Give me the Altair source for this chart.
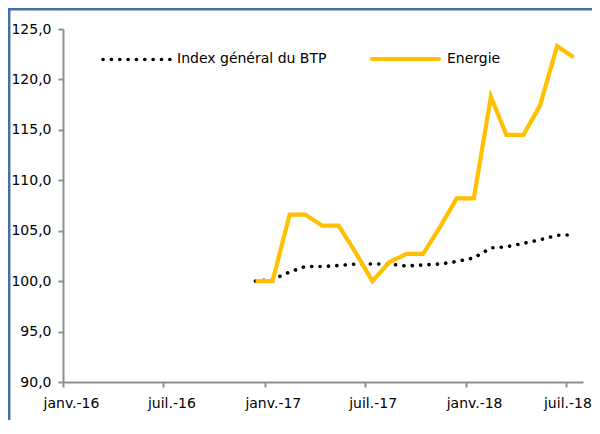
import altair as alt
import pandas as pd

# --- data ---
dates = ["2016-12-15", "2017-01-15", "2017-02-15", "2017-03-15", "2017-04-15",
         "2017-05-15", "2017-06-15", "2017-07-15", "2017-08-15", "2017-09-15",
         "2017-10-15", "2017-11-15", "2017-12-15", "2018-01-15", "2018-02-15",
         "2018-03-15", "2018-04-15", "2018-05-15", "2018-06-15", "2018-07-15"]
index_btp = [100.0, 100.15, 100.9, 101.45, 101.45, 101.55, 101.7, 101.7, 101.7, 101.5,
             101.6, 101.7, 101.95, 102.3, 103.3, 103.4, 103.75, 104.1, 104.55, 104.6]
energie = [100.0, 100.0, 106.6, 106.6, 105.5, 105.5, 102.8, 100.0, 101.9, 102.7,
           102.7, 105.4, 108.2, 108.2, 118.3, 114.5, 114.5, 117.4, 123.3, 122.2]
series_names = ["Index général du BTP", "Energie"]

y_ticks = [90, 95, 100, 105, 110, 115, 120, 125]
x_ticks = ["2016-01-01", "2016-07-01", "2017-01-01", "2017-07-01", "2018-01-01", "2018-07-01"]

W, H = 520, 353
PAD = {"left": 55, "top": 21, "right": 9, "bottom": 38}

df_idx = pd.DataFrame({"date": dates, "value": index_btp})
df_en = pd.DataFrame({"date": dates, "value": energie})

def to_dt(s):
    y, m, d = s.split("-")
    return alt.DateTime(year=int(y), month=int(m), date=int(d), utc=True)

x_enc = alt.X(
    "date:T",
    scale=alt.Scale(type="utc", domain=[to_dt("2016-01-01"), to_dt("2018-08-01")]),
    axis=alt.Axis(
        values=[to_dt(v) for v in x_ticks],
        labelExpr="(utcmonth(datum.value) == 0 ? 'janv.-' : 'juil.-') + utcFormat(datum.value, '%y')",
        title=None, grid=False, labelPadding=9, labelFlush=False,
        labelOffset={"condition": {"test": "utcyear(datum.value) == 2018 && utcmonth(datum.value) == 6",
                                   "value": 1.5},
                     "value": 8},
        labelOverlap=False,
    ),
)
y_enc = alt.Y(
    "value:Q",
    scale=alt.Scale(domain=[90, 125], nice=False, zero=False),
    axis=alt.Axis(
        values=y_ticks,
        labelExpr="replace(format(datum.value, '.1f'), '.', ',')",
        title=None, grid=False, labelPadding=7,
    ),
)

line_idx = alt.Chart(df_idx).mark_line(
    color="black", strokeWidth=3.6, strokeDash=[0.1, 8.3], strokeCap="round"
).encode(x=x_enc, y=y_enc)

line_en = alt.Chart(df_en).mark_line(
    color="#FFC000", strokeWidth=4.2, strokeJoin="miter"
).encode(x="date:T", y="value:Q")

# --- manual legend ---
leg = pd.DataFrame({"name": series_names})
leg_idx_sym = alt.Chart(leg.iloc[[0]]).mark_rule(
    color="black", strokeWidth=3.6, strokeDash=[0.1, 8.25], strokeCap="round"
).encode(x=alt.value(40), x2=alt.value(107), y=alt.value(30.5))
leg_idx_txt = alt.Chart(leg.iloc[[0]]).mark_text(
    align="left", baseline="middle", fontSize=14, font="DejaVu Sans", color="#000"
).encode(text="name:N", x=alt.value(114), y=alt.value(29.5))
leg_en_sym = alt.Chart(leg.iloc[[1]]).mark_rule(
    color="#FFC000", strokeWidth=4.2, strokeCap="round"
).encode(x=alt.value(309), x2=alt.value(376), y=alt.value(30))
leg_en_txt = alt.Chart(leg.iloc[[1]]).mark_text(
    align="left", baseline="middle", fontSize=14, font="DejaVu Sans", color="#000"
).encode(text="name:N", x=alt.value(384), y=alt.value(29.5))

# --- outer frame (top and left edges) ---
frame_top = alt.Chart(leg.iloc[[0]]).mark_rule(color="#4470A8", strokeWidth=2.5).encode(
    x=alt.value(-PAD["left"]), x2=alt.value(W + PAD["right"]), y=alt.value(-PAD["top"] + 1.2)
)
frame_left = alt.Chart(leg.iloc[[0]]).mark_rule(color="#4470A8", strokeWidth=2.5).encode(
    x=alt.value(-PAD["left"] + 1.2), y=alt.value(-PAD["top"]), y2=alt.value(H + PAD["bottom"])
)

chart = alt.layer(
    frame_top, frame_left, line_idx, line_en,
    leg_idx_sym, leg_idx_txt, leg_en_sym, leg_en_txt,
).properties(
    width=W, height=H,
    autosize=alt.AutoSizeParams(type="none"),
    padding=PAD,
    background="white",
).configure_view(
    stroke=None
).configure_axis(
    domainColor="#8E8E8E", domainWidth=2, tickColor="#8E8E8E", tickWidth=2, tickSize=5,
    labelFont="DejaVu Sans", labelFontSize=14, labelColor="#000",
)

chart.save("out.html", embed_options={"renderer": "svg", "actions": False})
